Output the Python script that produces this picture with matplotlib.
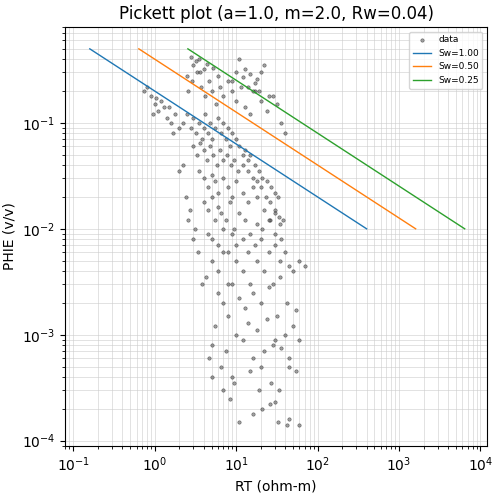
import numpy as np
import matplotlib.pyplot as plt

a, m, n, rw = 1.0, 2.0, 2.0, 0.04
sw_values = [1.00, 0.50, 0.25]
phi_ends = [0.5, 0.01]

# points (RT ohm-m, PHIE v/v)
rt = [0.8, 0.9, 1.0, 1.1, 1.2, 1.3, 0.75, 0.95, 1.05, 1.4, 1.6, 1.8, 2.0, 1.5, 1.7,
      2.2, 2.5, 2.8, 3.0, 3.2, 3.5, 3.8, 4.0, 4.2, 4.5, 4.8, 5.0, 5.5, 6.0, 6.5,
      7.0, 7.5, 8.0, 8.5, 9.0, 10, 11, 12, 13, 14, 15, 17, 19, 21, 24, 27, 30, 33,
      3.0, 3.3, 3.6, 4.0, 4.4, 4.8, 5.2, 5.8, 6.4, 7.0, 7.8, 8.6, 9.5, 10.5, 12, 14,
      16, 18, 20, 23, 26, 30, 34, 38,
      2.6, 2.9, 3.3, 3.7, 4.1, 4.6, 5.1, 5.7, 6.3, 7.0, 8.0, 9.0, 10, 11.5, 13, 15,
      17, 20, 24, 28, 32, 36, 40,
      3.5, 4.0, 4.5, 5.0, 5.5, 6.0, 7.0, 8.0, 9.0, 10, 12, 14, 16, 18, 22, 26, 30, 35,
      4.0, 4.5, 5.0, 5.5, 6.0, 6.5, 7.5, 8.5, 9.5, 11, 13, 15, 18, 21, 25, 30, 36,
      4.5, 5.0, 6.0, 7.0, 8.0, 9.0, 10, 12, 14, 17, 20, 25, 30, 35, 40, 50,
      5.0, 6.0, 7.0, 8.0, 10, 12, 15, 18, 22, 28, 35, 45, 60,
      6.0, 7.0, 9.0, 11, 13, 16, 20, 25, 32, 42, 55, 70,
      5.5, 8.0, 10, 14, 18, 24, 30, 40, 50,
      5.0, 7.5, 12, 16, 22, 28, 36, 45, 60,
      6.5, 9.0, 15, 20, 27, 34, 44, 55,
      5.0, 8.5, 11, 19, 26, 33, 42,
      4.6, 7.0, 9.5, 16, 21, 30, 45, 60,
      2.0, 2.4, 2.7, 3.0, 3.4, 2.2, 2.6, 3.1, 3.8, 4.3,
      2.5, 3.0, 3.5, 4.0, 2.8, 3.2, 3.6, 4.4, 5.2, 6.0,
      9, 10, 12, 14, 16, 18, 20, 22, 11, 13, 15, 17, 19, 25]
phie = [0.22, 0.18, 0.15, 0.13, 0.16, 0.14, 0.2, 0.12, 0.17, 0.11, 0.1, 0.12, 0.09, 0.14, 0.08,
        0.1, 0.12, 0.09, 0.11, 0.08, 0.1, 0.07, 0.09, 0.12, 0.08, 0.1, 0.07, 0.09, 0.11, 0.08,
        0.1, 0.07, 0.09, 0.06, 0.08, 0.07, 0.06, 0.05, 0.055, 0.045, 0.05, 0.04, 0.035, 0.03, 0.028, 0.025, 0.022, 0.02,
        0.06, 0.05, 0.065, 0.055, 0.045, 0.06, 0.05, 0.04, 0.055, 0.045, 0.05, 0.04, 0.045, 0.035, 0.04, 0.035,
        0.03, 0.028, 0.025, 0.02, 0.018, 0.015, 0.013, 0.012,
        0.2, 0.25, 0.3, 0.22, 0.18, 0.25, 0.2, 0.15, 0.22, 0.18, 0.25, 0.2, 0.16, 0.22, 0.14, 0.12,
        0.2, 0.16, 0.13, 0.18, 0.15, 0.1, 0.08,
        0.035, 0.03, 0.025, 0.032, 0.028, 0.022, 0.03, 0.025, 0.02, 0.028, 0.022, 0.018, 0.025, 0.02, 0.015, 0.012, 0.014, 0.011,
        0.018, 0.015, 0.02, 0.012, 0.016, 0.014, 0.012, 0.018, 0.01, 0.014, 0.012, 0.009, 0.011, 0.01, 0.012, 0.009, 0.008,
        0.009, 0.008, 0.007, 0.01, 0.006, 0.009, 0.007, 0.008, 0.006, 0.007, 0.008, 0.006, 0.007, 0.005, 0.006, 0.004,
        0.005, 0.004, 0.006, 0.003, 0.005, 0.004, 0.003, 0.005, 0.004, 0.003, 0.0035, 0.0045, 0.005,
        0.0025, 0.002, 0.003, 0.0022, 0.0018, 0.0025, 0.002, 0.0028, 0.0015, 0.002, 0.0017, 0.0045,
        0.0012, 0.0015, 0.001, 0.0013, 0.0011, 0.0014, 0.0009, 0.001, 0.0012,
        0.0008, 0.0007, 0.0009, 0.0006, 0.0007, 0.0008, 0.00075, 0.0006, 0.0009,
        0.0005, 0.0004, 0.00045, 0.0005, 0.00035, 0.0003, 0.0005, 0.00045,
        0.0004, 0.00025, 0.00015, 0.0003, 0.00022, 0.00015, 0.00014,
        0.0006, 0.0003, 0.00035, 0.00018, 0.0002, 0.00023, 0.00016, 0.00014,
        0.035, 0.02, 0.015, 0.008, 0.006, 0.04, 0.012, 0.01, 0.003, 0.0035,
        0.28, 0.35, 0.4, 0.32, 0.42, 0.38, 0.3, 0.36, 0.33, 0.28,
        0.25, 0.3, 0.27, 0.22, 0.2, 0.26, 0.3, 0.35, 0.4, 0.32, 0.29, 0.24, 0.2, 0.18]

fig, ax = plt.subplots(figsize=(5.02, 4.95), dpi=100)
ax.scatter(rt, phie, s=6, c='#555555', edgecolors='black', linewidths=0.4, alpha=0.55, label='data', zorder=2)
phi_line = np.array(phi_ends)
for sw in sw_values:
    rt_line = a * rw / (sw ** n * phi_line ** m)
    ax.plot(rt_line, phi_line, lw=1, label=f'Sw={sw:.2f}', zorder=3)

ax.set_xscale('log')
ax.set_yscale('log')
ax.set_xlim(0.08, 12000)
ax.set_ylim(9e-5, 0.8)
ax.grid(True, which='both', color='#cccccc', lw=0.5, alpha=0.8)
ax.set_xlabel('RT (ohm-m)')
ax.set_ylabel('PHIE (v/v)')
ax.set_title(f'Pickett plot (a={a}, m={m}, Rw={rw})')
ax.legend(loc='upper right', fontsize=6.5)
fig.subplots_adjust(left=0.13, right=0.97, top=0.945, bottom=0.1)
fig.savefig('out.png')
